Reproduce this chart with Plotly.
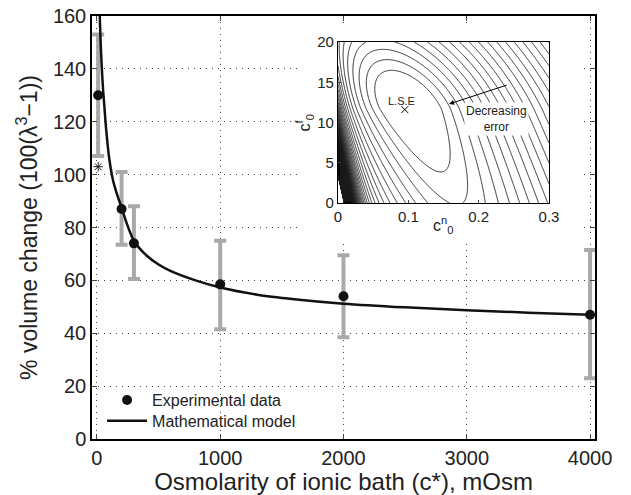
import numpy as np
import plotly.graph_objects as go

# ---------------- data ----------------
osm = [10, 200, 300, 1000, 2000, 4000]
vol_mean = [130, 87, 74, 58.5, 54, 47]
vol_upper = [153, 101, 88, 75, 69.5, 71.5]
vol_lower = [107, 73.5, 60.5, 41.5, 38.5, 23]

outlier_x = [10]
outlier_y = [103]

model_x = [20, 30, 40, 50, 60, 75, 100, 130, 160, 200, 250, 300, 400, 500, 600,
           800, 1000, 1300, 1600, 2000, 2500, 3000, 3500, 4000]
model_y = [164, 150, 140, 132, 126, 117, 106, 98, 93, 87.5, 80.5, 75, 69.5, 66, 63.5,
           60, 57.3, 54.6, 52.9, 51.2, 49.8, 48.7, 47.8, 47]

x_ticks = [0, 1000, 2000, 3000, 4000]
y_ticks = [0, 20, 40, 60, 80, 100, 120, 140, 160]

# inset: least-squares error surface over (c0n, c0f)
cn_vals = np.linspace(0, 0.3, 301)
cf_vals = np.linspace(0, 20, 201)
lse_point = (0.095, 11.6)
inset_xticks = [0, 0.1, 0.2, 0.3]
inset_yticks = [0, 5, 10, 15, 20]

# error surface (built in inset pixel units)
U, V = np.meshgrid(cn_vals, cf_vals)
px = U / 0.3 * 211
py = V / 20 * 161
cx, cy = 70.0, 95.0
a_x, b_up, b_dn = 20.0, 24.0, 65.0
xc = cx - 0.5 * (py - cy)
dx = px - xc
dy = py - cy
t_x = (dx / a_x) ** 2
L1sq = (33 / a_x) ** 2
t_y = np.where(dy > 0, (dy / b_up) ** 2, L1sq * (np.abs(dy) / b_dn) ** 1.2)
K_SING = 60000.0
r = px + py / 4.5 + 3
err = np.sqrt(1 + t_x + t_y) + K_SING / r ** 3
level0 = np.sqrt(1 + L1sq) + K_SING / (cx + 33 + cy / 4.5 + 3) ** 3
step = 8 / a_x

# ---------------- figure ----------------
X_RANGE = [-40, 4040]
Y_RANGE = [0, 160]
# white panel behind the inset (fractions of the main plot area)
panel_fx = [0.4076, 0.976]
panel_fy = [0.47, 0.981]
pan_x = [X_RANGE[0] + f * (X_RANGE[1] - X_RANGE[0]) for f in panel_fx]
pan_y = [Y_RANGE[0] + f * (Y_RANGE[1] - Y_RANGE[0]) for f in panel_fy]

fig = go.Figure()

fig.add_trace(go.Scatter(
    x=[pan_x[0], pan_x[1], pan_x[1], pan_x[0], pan_x[0]],
    y=[pan_y[0], pan_y[0], pan_y[1], pan_y[1], pan_y[0]],
    mode="lines", fill="toself", fillcolor="white", line=dict(width=0, color="white"),
    showlegend=False, hoverinfo="skip"))

err_plus = [u - v for u, v in zip(vol_upper, vol_mean)]
err_minus = [v - l for v, l in zip(vol_mean, vol_lower)]

fig.add_trace(go.Scatter(
    x=osm, y=vol_mean, mode="markers",
    marker=dict(size=1, color="rgba(0,0,0,0)"),
    error_y=dict(type="data", symmetric=False, array=err_plus, arrayminus=err_minus,
                 color="#a9a9a9", thickness=4, width=6),
    showlegend=False, hoverinfo="skip"))

fig.add_trace(go.Scatter(
    x=model_x, y=model_y, mode="lines",
    line=dict(color="#111111", width=2.5, shape="spline", smoothing=0.8),
    name="Mathematical model", legend="legend2"))

fig.add_trace(go.Scatter(
    x=osm, y=vol_mean, mode="markers", marker=dict(size=10, color="#111111"),
    name="Experimental data", legend="legend"))

fig.add_trace(go.Scatter(
    x=outlier_x, y=outlier_y, mode="markers",
    marker=dict(symbol="asterisk-open", size=8, color="#222222",
                line=dict(color="#222222", width=1)),
    showlegend=False))

fig.add_trace(go.Contour(
    x=cn_vals, y=cf_vals, z=err, xaxis="x2", yaxis="y2",
    contours=dict(coloring="lines", start=float(level0), end=80, size=float(step)),
    line=dict(color="#1a1a1a", width=0.9, smoothing=0.8),
    colorscale=[[0, "#1a1a1a"], [1, "#1a1a1a"]],
    showscale=False, hoverinfo="skip"))

fig.add_trace(go.Scatter(
    x=[lse_point[0]], y=[lse_point[1]], mode="markers", xaxis="x2", yaxis="y2",
    marker=dict(symbol="x-thin-open", size=7, color="black",
                line=dict(color="black", width=1)),
    showlegend=False, hoverinfo="skip"))

grid = dict(showgrid=True, gridcolor="#444444", gridwidth=1, griddash="1px,5px")
leg = dict(xanchor="left", yanchor="middle", bgcolor="rgba(0,0,0,0)",
           font=dict(size=16), itemwidth=40)
fig.update_layout(
    width=623, height=487,
    margin=dict(l=84, r=36, t=8, b=56),
    paper_bgcolor="white", plot_bgcolor="white",
    font=dict(family="Liberation Sans, Arial, sans-serif", color="#222222"),
    xaxis=dict(range=X_RANGE, tickvals=x_ticks, ticks="inside", ticklen=5,
               showline=True, mirror="ticks", linecolor="black", linewidth=1.5,
               zeroline=False, tickfont=dict(size=20), automargin=False,
               ticklabeloverflow="allow",
               title=dict(text="Osmolarity of ionic bath (c*), mOsm", font=dict(size=24), standoff=0),
               **grid),
    yaxis=dict(range=Y_RANGE, tickvals=y_ticks, ticks="inside", ticklen=5,
               showline=True, mirror="ticks", linecolor="black", linewidth=1.5,
               zeroline=False, tickfont=dict(size=20), automargin=False,
               ticklabeloverflow="allow",
               title=dict(text="% volume change (100(λ<sup>3</sup>−1))", font=dict(size=23), standoff=9),
               **grid),
    xaxis2=dict(domain=[0.489, 0.9085], anchor="y2", range=[0, 0.3], tickvals=inset_xticks,
                ticktext=["0", "0.1", "0.2", "0.3"],
                showline=True, mirror=True, linecolor="black", linewidth=1.2,
                ticks="inside", ticklen=3, showgrid=False, zeroline=False,
                tickfont=dict(size=15), automargin=False),
    yaxis2=dict(domain=[0.558, 0.9385], anchor="x2", range=[0, 20], tickvals=inset_yticks,
                showline=True, mirror=True, linecolor="black", linewidth=1.2,
                ticks="inside", ticklen=3, showgrid=False, zeroline=False,
                tickfont=dict(size=15), automargin=False),
    legend=dict(x=0.02, y=0.092, **leg),
    legend2=dict(x=0.02, y=0.043, **leg),
    annotations=[
        dict(x=0.091, y=12.7, xref="x2", yref="y2", text="L.S.E", showarrow=False,
             font=dict(size=11)),
        dict(x=0.225, y=10.4, xref="x2", yref="y2", text="Decreasing<br>error",
             showarrow=False, font=dict(size=12), bgcolor="white"),
        dict(x=0.158, y=12.3, ax=0.242, ay=14.7, xref="x2", yref="y2",
             axref="x2", ayref="y2", text="", showarrow=True, arrowhead=2,
             arrowsize=1, arrowwidth=1, arrowcolor="black"),
        dict(x=0.5, y=0, xref="x2 domain", yref="y2 domain", yanchor="middle",
             yshift=-22, text="c<sup>n</sup><sub>0</sub>", showarrow=False,
             font=dict(size=16)),
        dict(x=0, y=0.5, xref="x2 domain", yref="y2 domain", xanchor="center",
             xshift=-33, textangle=-90, text="c<sup>f</sup><sub>0</sub>", showarrow=False,
             font=dict(size=16)),
    ],
)

fig.write_html("out.html")
